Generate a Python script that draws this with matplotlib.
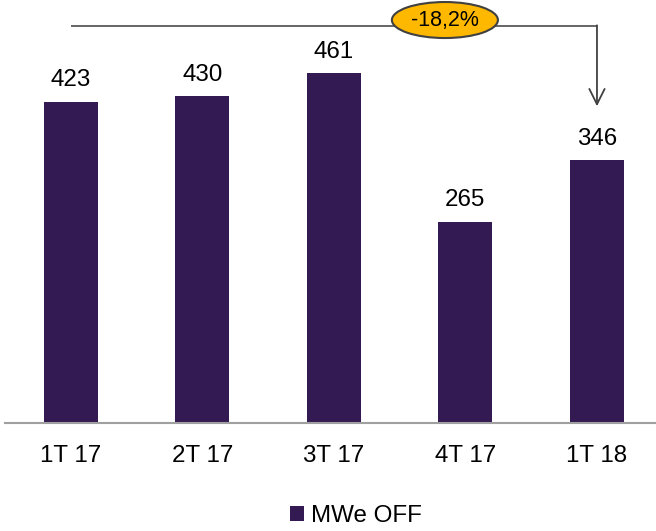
import matplotlib
matplotlib.use('Agg')
import matplotlib.pyplot as plt
from matplotlib.patches import Ellipse

# data
categorias = ['1T 17', '2T 17', '3T 17', '4T 17', '1T 18']
mwe_off = [423, 430, 461, 265, 346]
variacao = '-18,2%'
serie = 'MWe OFF'

plt.rcParams['font.family'] = ['Liberation Sans', 'DejaVu Sans']

cor_barra = '#341A52'

fig = plt.figure(figsize=(6.56, 5.31), dpi=100)
ax = fig.add_axes([5 / 656, 108 / 531, 651 / 656, 423 / 531])

x = list(range(len(categorias)))
bars = ax.bar(x, mwe_off, width=0.41, color=cor_barra, label=serie, zorder=2)

for xi, v in zip(x, mwe_off):
    ax.annotate(str(v), (xi, v), xytext=(0, 11), textcoords='offset points',
                ha='center', va='baseline', fontsize=17.4, color='#000000')

ax.set_xlim(-0.5, (656 - 71) / 131.5)
ax.set_ylim(0, 423 / 0.7596)
ax.set_xticks(x)
ax.set_xticklabels(categorias, fontsize=17.4)
ax.tick_params(axis='x', length=0, pad=15.5)
ax.set_yticks([])
for s in ['top', 'right', 'left']:
    ax.spines[s].set_visible(False)
ax.spines['bottom'].set_color('#A0A0A0')
ax.spines['bottom'].set_linewidth(1.5)

# variation arrow from first to last quarter
y_linha = 522.6
ax.plot([0, 4], [y_linha, y_linha], color='#595959', lw=1.3, zorder=3,
        solid_capstyle='butt')
ax.annotate('', xy=(4, 417), xytext=(4, y_linha + 1),
            arrowprops=dict(arrowstyle='->,head_length=1.1,head_width=0.55',
                            color='#404040', lw=1.3, shrinkA=0, shrinkB=0),
            zorder=3)
el = Ellipse((2.844, 530.5), 0.806, 47.4, facecolor='#FFB800',
             edgecolor='#404040', lw=1.5, zorder=4, clip_on=False)
ax.add_patch(el)
ax.text(2.844, 530.5, variacao, ha='center', va='center', fontsize=15.5,
        zorder=5, color='#000000')

leg = fig.legend(loc='center', bbox_to_anchor=(356 / 656, 1 - 516 / 531),
                 frameon=False, fontsize=17.4, handlelength=0.6,
                 handleheight=0.6, handletextpad=0.3)

fig.savefig('out.png', dpi=100)
